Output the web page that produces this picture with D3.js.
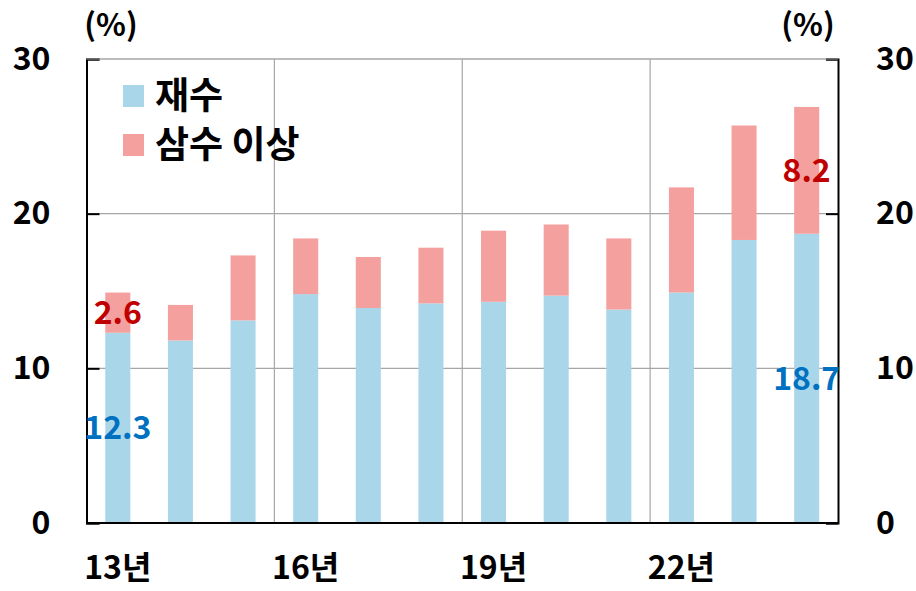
<!DOCTYPE html>
<html>
<head>
<meta charset="utf-8">
<script src="https://cdn.jsdelivr.net/npm/d3@7"></script>
<style>
  body { margin: 0; background: #fff; }
  svg text { font-family: "Noto Sans CJK KR", "Noto Sans", sans-serif; font-weight: bold; }
</style>
</head>
<body>
<div id="chart"></div>
<script>
// data
const years = ["13년", "14년", "15년", "16년", "17년", "18년", "19년", "20년", "21년", "22년", "23년", "24년"];
const repeat2 = [12.3, 11.8, 13.1, 14.8, 13.9, 14.2, 14.3, 14.7, 13.8, 14.9, 18.3, 18.7];   // 재수
const repeat3 = [2.6, 2.3, 4.2, 3.6, 3.3, 3.6, 4.6, 4.6, 4.6, 6.8, 7.4, 8.2];               // 삼수 이상
const seriesNames = ["재수", "삼수 이상"];
const xTickLabels = ["13년", "16년", "19년", "22년"];
const yTicks = [0, 10, 20, 30];

const width = 916, height = 591;
const margin = { top: 59, right: 78, bottom: 68, left: 86.5 };
const colors = ["#aad6ea", "#f4a09e"];

const svg = d3.select("#chart").append("svg")
  .attr("width", width)
  .attr("height", height);

const x = d3.scaleBand()
  .domain(years)
  .range([margin.left, width - margin.right])
  .paddingInner(0.6)
  .paddingOuter(0.3);

const y = d3.scaleLinear()
  .domain([0, 30])
  .range([height - margin.bottom, margin.top]);

// gridlines
svg.append("g")
  .selectAll("line")
  .data(yTicks.filter(d => d > 0))
  .join("line")
  .attr("x1", margin.left).attr("x2", width - margin.right)
  .attr("y1", d => y(d)).attr("y2", d => y(d))
  .attr("stroke", "#a6a6a6").attr("stroke-width", 1.2);

const step = x.step();
svg.append("g")
  .selectAll("line")
  .data([3, 6, 9])
  .join("line")
  .attr("x1", i => margin.left + i * step)
  .attr("x2", i => margin.left + i * step)
  .attr("y1", y(30)).attr("y2", y(0))
  .attr("stroke", "#a6a6a6").attr("stroke-width", 1.2);

// stacked bars
const table = years.map((yr, i) => ({ year: yr, a: repeat2[i], b: repeat3[i] }));
const stack = d3.stack().keys(["a", "b"])(table);

svg.append("g")
  .selectAll("g")
  .data(stack)
  .join("g")
  .attr("fill", (d, i) => colors[i])
  .selectAll("rect")
  .data(d => d)
  .join("rect")
  .attr("x", d => x(d.data.year))
  .attr("width", x.bandwidth())
  .attr("y", d => y(d[1]))
  .attr("height", d => y(d[0]) - y(d[1]));

// axes
const yLeft = d3.axisLeft(y).tickValues(yTicks).tickSize(-13).tickPadding(36);
svg.append("g")
  .attr("transform", `translate(${margin.left},0)`)
  .call(yLeft)
  .call(g => g.select(".domain").attr("stroke", "#000").attr("stroke-width", 2))
  .call(g => g.selectAll(".tick line").attr("stroke", "#000").attr("stroke-width", 2))
  .call(g => g.selectAll(".tick text").attr("font-size", 32).attr("fill", "#000"));

const yRight = d3.axisRight(y).tickValues(yTicks).tickSize(-12).tickPadding(38);
svg.append("g")
  .attr("transform", `translate(${width - margin.right},0)`)
  .call(yRight)
  .call(g => g.select(".domain").attr("stroke", "#000").attr("stroke-width", 2))
  .call(g => g.selectAll(".tick line").attr("stroke", "#000").attr("stroke-width", 2))
  .call(g => g.selectAll(".tick text").attr("font-size", 32).attr("fill", "#000"));

// top border (gray) and bottom axis (black)
svg.append("line")
  .attr("x1", margin.left).attr("x2", width - margin.right)
  .attr("y1", y(30)).attr("y2", y(30))
  .attr("stroke", "#a6a6a6").attr("stroke-width", 1.2);

const xAxis = d3.axisBottom(x).tickValues(xTickLabels).tickSize(0).tickPadding(33);
svg.append("g")
  .attr("transform", `translate(0,${y(0)})`)
  .call(xAxis)
  .call(g => g.select(".domain").remove())
  .call(g => g.selectAll(".tick text").attr("font-size", 32).attr("fill", "#000"));

svg.append("line")
  .attr("x1", margin.left).attr("x2", width - margin.right)
  .attr("y1", y(0)).attr("y2", y(0))
  .attr("stroke", "#000").attr("stroke-width", 2);

// unit labels
svg.append("text").attr("x", 111).attr("y", 36)
  .attr("text-anchor", "middle").attr("font-size", 31).text("(%)");
svg.append("text").attr("x", 808).attr("y", 36)
  .attr("text-anchor", "middle").attr("font-size", 31).text("(%)");

// legend
const legend = svg.append("g");
seriesNames.forEach((name, i) => {
  const ly = 96 + i * 49;
  legend.append("rect")
    .attr("x", 123).attr("y", ly - 11)
    .attr("width", 21).attr("height", 22)
    .attr("fill", colors[i]);
  legend.append("text")
    .attr("x", 155).attr("y", ly)
    .attr("dy", "0.36em")
    .attr("font-size", 37)
    .text(name);
});

// value labels on first and last bar
const first = 0, last = years.length - 1;
const callouts = [
  { i: first, v: (0 + repeat2[first]) / 2, text: repeat2[first].toFixed(1), color: "#0070c0" },
  { i: first, v: repeat2[first] + repeat3[first] / 2, text: repeat3[first].toFixed(1), color: "#c00000" },
  { i: last, v: repeat2[last] / 2, text: repeat2[last].toFixed(1), color: "#0070c0" },
  { i: last, v: repeat2[last] + repeat3[last] / 2, text: repeat3[last].toFixed(1), color: "#c00000" }
];
svg.append("g")
  .selectAll("text")
  .data(callouts)
  .join("text")
  .attr("x", d => x(years[d.i]) + x.bandwidth() / 2)
  .attr("y", d => y(d.v))
  .attr("dy", "0.36em")
  .attr("text-anchor", "middle")
  .attr("font-size", 32)
  .attr("fill", d => d.color)
  .text(d => d.text);
</script>
</body>
</html>
